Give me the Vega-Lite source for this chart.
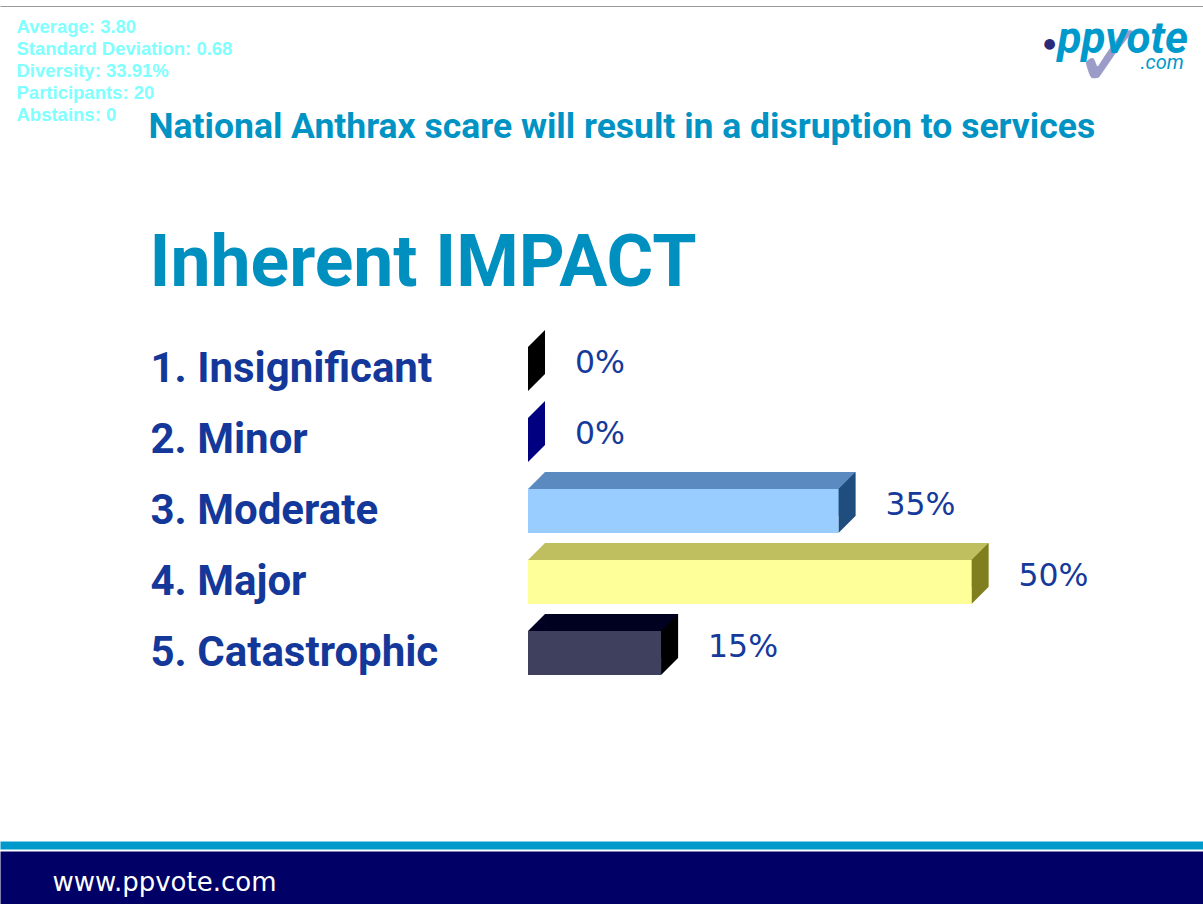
{
  "$schema": "https://vega.github.io/schema/vega-lite/v6.json",
  "width": 1203,
  "height": 841,
  "autosize": {"type": "none"},
  "padding": {"left": 0, "top": 0, "right": 0, "bottom": 63},
  "background": "white",
  "config": {"view": {"stroke": null}},
  "data": {"values": [
    {"cat": "1. Insignificant", "pct": 0},
    {"cat": "2. Minor", "pct": 0},
    {"cat": "3. Moderate", "pct": 0.35},
    {"cat": "4. Major", "pct": 0.5},
    {"cat": "5. Catastrophic", "pct": 0.15}
  ]},
  "resolve": {"scale": {"color": "independent"}, "axis": {"x": "independent", "y": "independent"}},
  "layer": [
    {
      "transform": [{"filter": "datum.pct > 0"}],
      "mark": {"type": "bar", "xOffset": 17, "x2Offset": 17, "yOffset": -17, "y2Offset": -17},
      "encoding": {
        "x": {"field": "pct", "type": "quantitative", "scale": {"domain": [-0.5953, 0.761], "nice": false, "zero": false},
          "axis": {"orient": "bottom", "offset": 36.5, "domain": true, "domainColor": "#000066", "domainWidth": 53, "labels": false, "ticks": false, "grid": false,
            "title": "www.ppvote.com", "titleX": 52, "titleY": 13, "titleAlign": "left", "titleBaseline": "alphabetic", "titleFont": "DejaVu Sans", "titleFontSize": 26, "titleFontWeight": "normal", "titleColor": "#FFFFFF"}},
        "y": {"field": "cat", "type": "nominal", "sort": null,
          "scale": {"type": "band", "domain": ["1. Insignificant", "2. Minor", "3. Moderate", "4. Major", "5. Catastrophic"], "range": [347, 675], "paddingInner": 0.3803, "paddingOuter": 0},
          "axis": {"orient": "left", "domain": false, "labels": false, "ticks": false, "grid": false,
            "title": "✓", "titleX": 1072, "titleY": 86, "titleAngle": 0, "titleAlign": "left", "titleBaseline": "alphabetic", "titleFont": "DejaVu Sans", "titleFontSize": 90, "titleFontWeight": "normal", "titleColor": "#9C9CC8"}},
        "color": {"field": "cat", "type": "nominal", "legend": null,
          "scale": {"domain": ["1. Insignificant", "2. Minor", "3. Moderate", "4. Major", "5. Catastrophic"], "range": ["#000000", "#000060", "#5A8ABF", "#BFBF5F", "#000020"]}}
      }
    },
    {
      "transform": [{"filter": "datum.pct > 0"}],
      "mark": {"type": "point", "shape": "M0,-22L17,-39L17,-22Z", "size": 4, "filled": true, "opacity": 1, "strokeWidth": 0},
      "encoding": {
        "x": {"datum": 0, "type": "quantitative", "scale": {"domain": [-0.5953, 0.761], "nice": false, "zero": false},
          "axis": {"orient": "top", "offset": -6, "domain": true, "domainColor": "#9A9A9A", "domainWidth": 1, "labels": false, "ticks": false, "grid": false, "title": null}},
        "y": {"field": "cat", "type": "nominal", "sort": null,
          "scale": {"type": "band", "domain": ["1. Insignificant", "2. Minor", "3. Moderate", "4. Major", "5. Catastrophic"], "range": [347, 675], "paddingInner": 0.3803, "paddingOuter": 0},
          "axis": {"orient": "left", "domain": false, "labels": false, "ticks": false, "grid": false,
            "title": "National Anthrax scare will result in a disruption to services", "titleX": 148, "titleY": 137, "titleAngle": 0, "titleAlign": "left", "titleBaseline": "alphabetic", "titleFont": "Roboto", "titleFontSize": 35.5, "titleFontWeight": "bold", "titleColor": "#0093C4"}},
        "color": {"field": "cat", "type": "nominal", "legend": null,
          "scale": {"domain": ["1. Insignificant", "2. Minor", "3. Moderate", "4. Major", "5. Catastrophic"], "range": ["#000000", "#000060", "#5A8ABF", "#BFBF5F", "#000020"]}}
      }
    },
    {
      "mark": {"type": "point", "shape": "M0,-22L17,-39L17,5L0,22Z", "size": 4, "filled": true, "opacity": 1, "strokeWidth": 0},
      "encoding": {
        "x": {"field": "pct", "type": "quantitative", "scale": {"domain": [-0.5953, 0.761], "nice": false, "zero": false},
          "axis": {"orient": "top", "domain": false, "labels": false, "ticks": false, "grid": false,
            "title": ".com", "titleX": 1140, "titleY": 68, "titleAlign": "left", "titleBaseline": "alphabetic", "titleFont": "Roboto", "titleFontSize": 20, "titleFontWeight": "normal", "titleFontStyle": "italic", "titleColor": "#0099CC"}},
        "y": {"field": "cat", "type": "nominal", "sort": null,
          "scale": {"type": "band", "domain": ["1. Insignificant", "2. Minor", "3. Moderate", "4. Major", "5. Catastrophic"], "range": [347, 675], "paddingInner": 0.3803, "paddingOuter": 0},
          "axis": {"orient": "left", "domain": false, "labels": false, "ticks": false, "grid": false,
            "title": "Inherent IMPACT", "titleX": 149, "titleY": 285, "titleAngle": 0, "titleAlign": "left", "titleBaseline": "alphabetic", "titleFont": "Roboto", "titleFontSize": 71.5, "titleFontWeight": "bold", "titleColor": "#0090C0"}},
        "color": {"field": "cat", "type": "nominal", "legend": null,
          "scale": {"domain": ["1. Insignificant", "2. Minor", "3. Moderate", "4. Major", "5. Catastrophic"], "range": ["#000000", "#000080", "#1F4D7E", "#7F7F20", "#000000"]}}
      }
    },
    {
      "mark": {"type": "bar"},
      "encoding": {
        "x": {"field": "pct", "type": "quantitative", "scale": {"domain": [-0.5953, 0.761], "nice": false, "zero": false},
          "axis": {"orient": "bottom", "offset": 4, "domain": true, "domainColor": "#0099CC", "domainWidth": 8, "labels": false, "ticks": false, "grid": false, "title": null}},
        "y": {"field": "cat", "type": "nominal", "sort": null,
          "scale": {"type": "band", "domain": ["1. Insignificant", "2. Minor", "3. Moderate", "4. Major", "5. Catastrophic"], "range": [347, 675], "paddingInner": 0.3803, "paddingOuter": 0},
          "axis": {"orient": "left", "domain": false, "ticks": false, "tickSize": 0, "grid": false,
            "labelAlign": "left", "labelPadding": -150, "labelBaseline": "alphabetic", "labelOffset": 13, "labelFont": "Roboto", "labelFontWeight": "bold", "labelFontSize": 42, "labelColor": "#14389A", "labelLimit": 800,
            "title": ["Average: 3.80", "Standard Deviation: 0.68", "Diversity: 33.91%", "Participants: 20", "Abstains: 0"],
            "titleX": 16, "titleY": 32.3, "titleAngle": 0, "titleAlign": "left", "titleBaseline": "alphabetic", "titleFont": "Liberation Sans", "titleFontWeight": "bold", "titleFontSize": 18.5, "titleColor": "#80FFFF", "titleLineHeight": 22.1}},
        "color": {"field": "cat", "type": "nominal", "legend": null,
          "scale": {"domain": ["1. Insignificant", "2. Minor", "3. Moderate", "4. Major", "5. Catastrophic"], "range": ["#000000", "#000080", "#99CCFF", "#FFFF99", "#3F3F5E"]}}
      }
    },
    {
      "mark": {"type": "text", "align": "left", "baseline": "alphabetic", "dx": 47, "dy": 4, "font": "DejaVu Sans", "fontSize": 31.5, "color": "#153A9B"},
      "encoding": {
        "x": {"field": "pct", "type": "quantitative", "scale": {"domain": [-0.5953, 0.761], "nice": false, "zero": false},
          "axis": {"orient": "top", "domain": false, "labels": false, "ticks": false, "grid": false,
            "title": "●", "titleX": 1043, "titleY": 47, "titleAlign": "left", "titleBaseline": "alphabetic", "titleFont": "DejaVu Sans", "titleFontSize": 14, "titleFontWeight": "normal", "titleColor": "#2A2A7A"}},
        "y": {"field": "cat", "type": "nominal", "sort": null,
          "scale": {"type": "band", "domain": ["1. Insignificant", "2. Minor", "3. Moderate", "4. Major", "5. Catastrophic"], "range": [347, 675], "paddingInner": 0.3803, "paddingOuter": 0},
          "axis": {"orient": "left", "domain": false, "labels": false, "ticks": false, "grid": false,
            "title": "ppvote", "titleX": 1057, "titleY": 52, "titleAngle": 0, "titleAlign": "left", "titleBaseline": "alphabetic", "titleFont": "Roboto", "titleFontSize": 44, "titleFontWeight": "bold", "titleFontStyle": "italic", "titleColor": "#0099CC"}},
        "text": {"field": "pct", "type": "quantitative", "format": ".0%"}
      }
    }
  ]
}
